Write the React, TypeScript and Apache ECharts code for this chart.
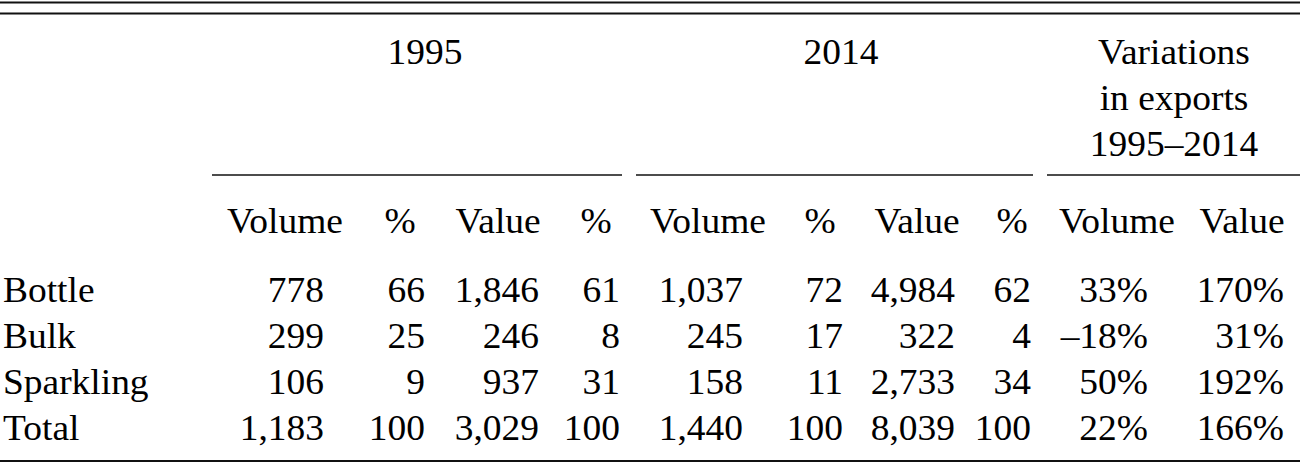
import React, { useEffect, useRef } from "react";
import * as echarts from "echarts";

const rowLabels = ["Bottle", "Bulk", "Sparkling", "Total"];
const vol1995 = [778, 299, 106, 1183];
const volPct1995 = [66, 25, 9, 100];
const val1995 = [1846, 246, 937, 3029];
const valPct1995 = [61, 8, 31, 100];
const vol2014 = [1037, 245, 158, 1440];
const volPct2014 = [72, 17, 11, 100];
const val2014 = [4984, 322, 2733, 8039];
const valPct2014 = [62, 4, 34, 100];
const varVolume = [33, -18, 50, 22];
const varValue = [170, 31, 192, 166];
const groupHeaders = ["1995", "2014", "Variations\nin exports\n1995–2014"];
const subHeaders = ["Volume", "%", "Value", "%", "Volume", "%", "Value", "%", "Volume", "Value"];

const FONT = "'Liberation Serif', 'DejaVu Serif', serif";
const FS = 35;
const SX = 1.07;

function fmtNum(v: number): string {
  return v.toLocaleString("en-US");
}
function fmtPct(v: number): string {
  return (v < 0 ? "–" + Math.abs(v) : String(v)) + "%";
}

export default function App() {
  const ref = useRef<HTMLDivElement>(null);
  useEffect(() => {
    if (!ref.current) return;
    const chart = echarts.init(ref.current, undefined, { renderer: "svg" });

    const colRight = [324, 425, 539, 620, 743, 843, 955, 1031, 1148, 1284];
    const headCenter = [285, 400, 498, 596, 708, 820, 917, 1012, 1117, 1242];
    const rowY = [289, 335, 381, 427];
    const subY = 220;
    const groupSpans = [
      [212, 622],
      [636, 1033],
      [1047, 1300],
    ];
    const groupCenter = [425, 841, 1174];
    const groupLineY = [51, 97, 143];
    const dy = 1;

    const columns: string[][] = [
      vol1995.map(fmtNum),
      volPct1995.map(String),
      val1995.map(fmtNum),
      valPct1995.map(String),
      vol2014.map(fmtNum),
      volPct2014.map(String),
      val2014.map(fmtNum),
      valPct2014.map(String),
      varVolume.map(fmtPct),
      varValue.map(fmtPct),
    ];

    const txt = (s: string, x: number, y: number, align: string) => ({
      type: "text",
      x,
      y: y + dy,
      scaleX: SX,
      style: {
        text: s,
        fill: "#000",
        font: `${FS}px ${FONT}`,
        align,
        verticalAlign: "middle",
      },
    });
    const line = (x1: number, y1: number, x2: number, y2: number, w: number) => ({
      type: "line",
      shape: { x1, y1, x2, y2 },
      style: { stroke: "#111", lineWidth: w },
    });

    const elements: any[] = [];
    elements.push(line(0, 2.5, 1300, 2.5, 2));
    elements.push(line(0, 13.5, 1300, 13.5, 2));
    elements.push(line(0, 461, 1300, 461, 2));

    groupHeaders.forEach((g, i) => {
      const [a, b] = groupSpans[i];
      g.split("\n").forEach((ln, k) => elements.push(txt(ln, groupCenter[i], groupLineY[k], "center")));
      elements.push(line(a, 175, b, 175, 1.5));
    });

    subHeaders.forEach((h, i) => elements.push(txt(h, headCenter[i], subY, "center")));

    rowLabels.forEach((r, j) => {
      elements.push(txt(r, 3, rowY[j], "left"));
      columns.forEach((col, i) => elements.push(txt(col[j], colRight[i], rowY[j], "right")));
    });

    chart.setOption({
      animation: false,
      backgroundColor: "#fff",
      graphic: { elements },
    });
    return () => chart.dispose();
  }, []);
  return (
    <div
      ref={ref}
      style={{ position: "fixed", left: 0, top: 0, width: 1300, height: 464, background: "#fff" }}
    />
  );
}
